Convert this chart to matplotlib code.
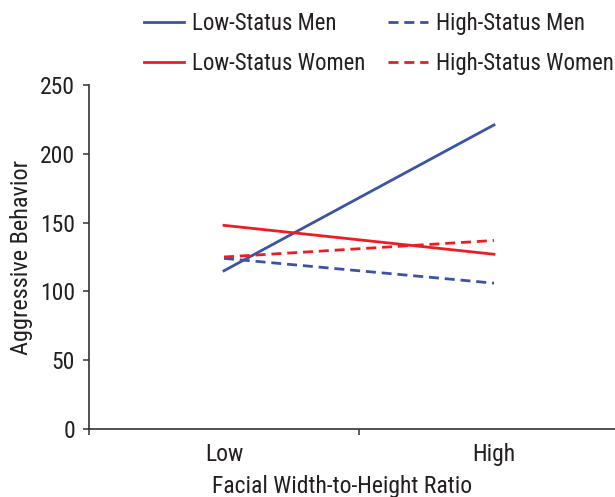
import matplotlib
matplotlib.use("Agg")
import matplotlib.pyplot as plt
from matplotlib import font_manager

categories = ["Low", "High"]
low_status_men = [115, 221]
high_status_men = [124, 106]
low_status_women = [148, 127]
high_status_women = [125, 137]
y_ticks = [0, 50, 100, 150, 200, 250]

names = {f.name for f in font_manager.fontManager.ttflist}
fam = "DejaVu Sans"
for cand in ["Liberation Sans Narrow", "Roboto Condensed", "Open Sans Condensed", "Liberation Sans", "Arial"]:
    if cand in names:
        fam = cand
        break
plt.rcParams["font.family"] = [fam, "DejaVu Sans"]
txt = "#231F20"
blue = "#3A53A4"
red = "#ED1C24"
axc = "#333333"

W, H = 615, 497
fig = plt.figure(figsize=(W / 100, H / 100), dpi=100)
ax = fig.add_axes([89 / W, (H - 429) / H, 540 / W, 344 / H])

x = list(range(len(categories)))
lw = 2.0
ax.plot(x, low_status_men, color=blue, lw=lw, label="Low-Status Men")
ax.plot(x, low_status_women, color=red, lw=lw, label="Low-Status Women")
ax.plot(x, high_status_men, color=blue, lw=lw, dashes=(3.6, 2.1), dash_capstyle="butt", label="High-Status Men")
ax.plot(x, high_status_women, color=red, lw=lw, dashes=(3.6, 2.1), dash_capstyle="butt", label="High-Status Women")

fs = 17
ax.set_xlim(-0.5, 1.5)
ax.set_ylim(0, 250)
ax.set_yticks(y_ticks)
ax.set_xticks([-0.5, 0.5, 1.5])
ax.set_xticklabels([])
ax.set_xticks(x, minor=True)
ax.set_xticklabels(categories, minor=True)
ax.tick_params(axis="x", which="major", direction="out", length=4, width=1.1, color=axc)
ax.tick_params(axis="x", which="minor", length=0, pad=10, labelsize=fs, labelcolor=txt)
ax.tick_params(axis="y", direction="out", length=4, width=1.1, color=axc, labelsize=fs, labelcolor=txt, pad=6)
for s in ["top", "right"]:
    ax.spines[s].set_visible(False)
for s in ["left", "bottom"]:
    ax.spines[s].set_color(axc)
    ax.spines[s].set_linewidth(1.2)

ax.set_ylabel("Aggressive Behavior", fontsize=17.5, color=txt)
ax.yaxis.label.set_va("center")
ax.yaxis.set_label_coords((22 - 89) / 540, 0.5)
ax.set_xlabel("Facial Width-to-Height Ratio", fontsize=17, color=txt)
ax.xaxis.label.set_va("baseline")
ax.xaxis.set_label_coords((342 - 89) / 540, -(493 - 429) / 344)

handles, labels = ax.get_legend_handles_labels()
leg = fig.legend(handles, labels, ncol=2,
                 loc="upper left", bbox_to_anchor=(144 / W, 1 - 12 / H), frameon=False,
                 fontsize=16.4, handlelength=1.75, handletextpad=0.35, columnspacing=1.0,
                 labelspacing=0.75, borderpad=0, borderaxespad=0)
for t in leg.get_texts():
    t.set_color(txt)

fig.savefig("out.png", dpi=100)
